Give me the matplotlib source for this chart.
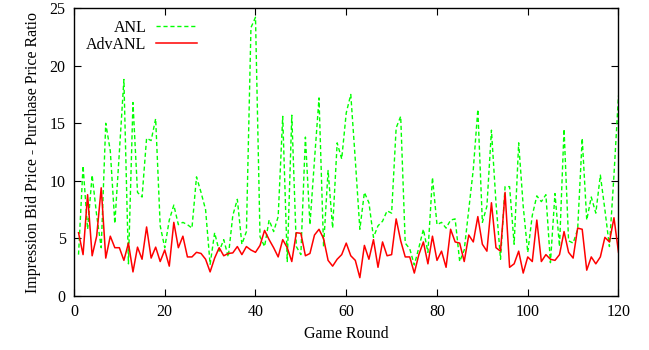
import numpy as np
import matplotlib
matplotlib.use("Agg")
import matplotlib.pyplot as plt

plt.rcParams["font.family"] = ["Liberation Serif", "DejaVu Serif"]

rounds = np.arange(1, 121)

anl = [
    3.6, 11.3, 5.8, 10.5, 7.0, 4.2, 15.0, 12.6, 6.3, 12.5,
    18.8, 2.8, 16.8, 9.0, 8.6, 13.7, 13.5, 15.4, 6.1, 4.2,
    6.6, 7.9, 6.2, 6.4, 6.2, 5.9, 10.35, 9.0, 7.5, 2.75,
    5.5, 3.9, 4.9, 3.4, 7.0, 8.4, 4.5, 5.6, 23.3, 24.2,
    5.15, 4.3, 6.6, 5.6, 6.9, 15.6, 3.0, 15.7, 4.3, 3.6,
    13.8, 6.2, 11.8, 17.2, 4.3, 10.9, 5.9, 13.3, 11.9, 15.9,
    17.5, 11.8, 5.8, 9.0, 8.1, 5.1, 6.1, 6.5, 7.4, 7.2,
    14.6, 15.6, 4.6, 4.1, 2.7, 4.2, 5.8, 3.8, 10.3, 6.2,
    6.4, 5.9, 6.6, 6.7, 3.0, 4.0, 7.5, 11.0, 16.2, 6.4,
    7.8, 14.4, 8.1, 3.2, 9.5, 9.5, 4.5, 13.3, 7.8, 3.8,
    7.0, 8.7, 8.2, 8.8, 2.9, 8.9, 4.3, 14.5, 4.8, 4.6,
    5.8, 13.7, 6.6, 8.6, 7.2, 10.5, 7.5, 4.3, 10.5, 17.4,
]

adv_anl = [
    5.5, 3.6, 8.8, 3.5, 5.2, 9.4, 3.3, 5.2, 4.2, 4.2,
    3.1, 4.6, 2.1, 4.25, 3.2, 6.0, 3.3, 4.25, 3.0, 4.0,
    2.6, 6.4, 4.2, 5.2, 3.4, 3.4, 3.8, 3.7, 3.2, 2.1,
    3.3, 4.2, 3.5, 3.7, 3.75, 4.3, 3.6, 4.3, 4.0, 3.8,
    4.4, 5.7, 4.9, 4.2, 3.4, 4.9, 4.2, 3.0, 5.5, 5.45,
    3.5, 3.7, 5.3, 5.8, 5.0, 3.1, 2.6, 3.2, 3.6, 4.6,
    3.5, 3.1, 1.6, 4.4, 3.2, 4.9, 2.5, 4.7, 3.5, 3.6,
    6.7, 4.8, 3.4, 3.4, 2.0, 3.6, 4.7, 2.8, 5.2, 3.1,
    3.9, 2.5, 5.8, 4.7, 4.6, 3.0, 5.3, 4.7, 6.9, 4.5,
    3.9, 8.1, 4.2, 3.9, 9.0, 2.5, 2.8, 3.9, 2.0, 3.4,
    3.0, 6.6, 3.0, 3.6, 3.2, 3.1, 3.6, 5.6, 3.8, 3.3,
    5.9, 5.8, 2.25, 3.4, 2.8, 3.4, 5.1, 4.7, 6.8, 3.8,
]

x_ticks = [0, 20, 40, 60, 80, 100, 120]
y_ticks = [0, 5, 10, 15, 20, 25]

fig = plt.figure(figsize=(6.49, 3.5), dpi=100)
ax = fig.add_axes([0.114, 0.154, 0.839, 0.823])

ax.plot(rounds, anl, color="#00ff00", lw=1.0, dashes=(3, 2), label="ANL")
ax.plot(rounds, adv_anl, color="#ff0000", lw=1.1, label="AdvANL")

ax.set_xlim(0, 120)
ax.set_ylim(0, 25)
ax.set_xticks(x_ticks)
ax.set_yticks(y_ticks)
ax.tick_params(direction="in", length=5, width=0.8, top=True, right=True,
               labelsize=11.5, pad=6)
for s in ax.spines.values():
    s.set_linewidth(1.0)

ax.set_xlabel("Game Round", fontsize=11.5, labelpad=4)
ax.set_ylabel("Impression Bid Price - Purchase Price Ratio", fontsize=11.5, labelpad=6)

ax.legend(loc="upper left", markerfirst=False, frameon=False, fontsize=11.5,
          handlelength=2.6, handletextpad=0.6, labelspacing=0.05,
          borderaxespad=0.35, bbox_to_anchor=(0.0, 1.0))

fig.savefig("out.png", dpi=100)
